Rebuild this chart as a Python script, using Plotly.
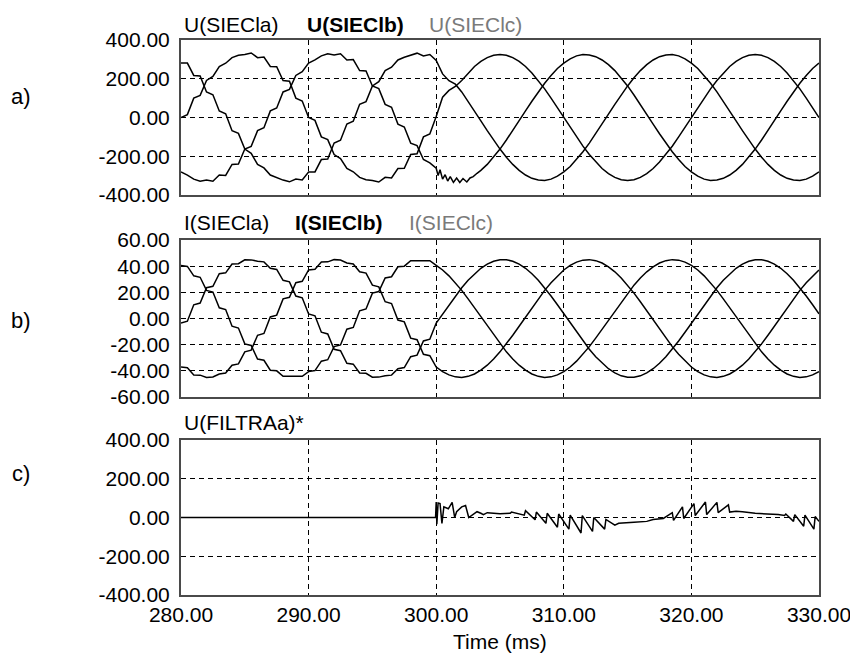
import numpy as np
import plotly.graph_objects as go

# ---------------- data ----------------
t_ms = np.round(np.arange(101) * 0.5 + 280.0, 2)   # 280 ... 330 ms, 0.5 ms sampling

u_a = [0, 15, 100, 114, 191, 212, 263, 280, 309, 321, 325, 333, 309, 312, 263, 262, 191, 187, 100, 85,
       0, -15, -100, -114, -191, -212, -263, -280, -309, -321, -325, -333, -309, -312, -263, -262, -191, -187, -100, -85,
       5, 105, 140, 160, 191, 230, 263, 290, 309, 321, 325, 321, 309, 290, 263, 230, 191, 148, 100, 51,
       0, -51, -100, -148, -191, -230, -263, -290, -309, -321, -325, -321, -309, -290, -263, -230, -191, -148, -100, -51,
       0, 51, 100, 148, 191, 230, 263, 290, 309, 321, 325, 321, 309, 290, 263, 230, 191, 148, 100, 51, 0]

u_b = [-281, -297, -318, -329, -323, -329, -297, -299, -242, -240, -163, -149, -68, -53, 34, 49, 132, 145, 217, 237,
       281, 297, 318, 329, 323, 329, 297, 299, 242, 240, 163, 149, 68, 53, -34, -49, -132, -145, -217, -234,
       -281, -303, -318, -325, -323, -314, -297, -273, -242, -205, -163, -116, -68, -17, 34, 84, 132, 177, 217, 253,
       281, 303, 318, 325, 323, 314, 297, 273, 242, 205, 163, 116, 68, 17, -34, -84, -132, -177, -217, -253,
       -281, -303, -318, -325, -323, -314, -297, -273, -242, -205, -163, -116, -68, -17, 34, 84, 132, 177, 217, 253, 281]

# switching transient of U(SIEClb) between 300 and 303 ms
t_trans = [300.0, 300.15, 300.3, 300.5, 300.7, 300.9, 301.1, 301.35, 301.6, 301.85, 302.1, 302.4, 302.65, 302.9, 303.2]
u_b_trans = [-262, -300, -270, -318, -295, -328, -305, -335, -312, -335, -315, -333, -312, -305, -288]

u_c = [281, 281, 217, 214, 132, 117, 34, 19, -68, -82, -163, -185, -242, -260, -297, -311, -323, -332, -318, -322,
       -281, -281, -217, -214, -132, -117, -34, -19, 68, 82, 163, 185, 242, 260, 297, 311, 323, 332, 318, 325,
       295, 225, 190, 172, 132, 84, 34, -17, -68, -116, -163, -205, -242, -273, -297, -314, -323, -325, -318, -303,
       -281, -253, -217, -177, -132, -84, -34, 17, 68, 116, 163, 205, 242, 273, 297, 314, 323, 325, 318, 303,
       281, 253, 217, 177, 132, 84, 34, -17, -68, -116, -163, -205, -242, -273, -297, -314, -323, -325, -318, -303, -281]

i_a = [-3.5, -2.1, 10.5, 11.8, 23.5, 24.6, 34.2, 34.9, 41.6, 41.9, 44.9, 44.8, 43.8, 43.3, 38.4, 37.5, 29.2, 28.0, 17.2, 15.8,
       3.5, 2.1, -10.5, -11.8, -23.5, -24.6, -34.2, -34.9, -41.6, -41.9, -44.9, -44.8, -43.8, -43.3, -38.4, -37.5, -29.2, -28.0, -17.2, -15.8,
       -3.5, 3.5, 10.5, 17.2, 23.5, 29.2, 34.2, 38.4, 41.6, 43.8, 44.9, 44.9, 43.8, 41.6, 38.4, 34.2, 29.2, 23.5, 17.2, 10.5,
       3.5, -3.5, -10.5, -17.2, -23.5, -29.2, -34.2, -38.4, -41.6, -43.8, -44.9, -44.9, -43.8, -41.6, -38.4, -34.2, -29.2, -23.5, -17.2, -10.5,
       -3.5, 3.5, 10.5, 17.2, 23.5, 29.2, 34.2, 38.4, 41.6, 43.8, 44.9, 44.9, 43.8, 41.6, 38.4, 34.2, 29.2, 23.5, 17.2, 10.5, 3.5]

i_b = [-37.1, -37.7, -43.1, -43.3, -45.0, -44.7, -42.4, -41.7, -35.7, -34.7, -25.5, -24.2, -12.8, -11.4, 1.2, 2.6, 15.0, 16.2, 27.4, 28.4,
       37.1, 37.7, 43.1, 43.3, 45.0, 44.7, 42.4, 41.7, 35.7, 34.7, 25.5, 24.2, 12.8, 11.4, -1.2, -2.6, -15.0, -16.2, -27.4, -28.4,
       -37.1, -40.6, -43.1, -44.6, -45.0, -44.2, -42.4, -39.5, -35.7, -31.0, -25.5, -19.4, -12.8, -5.9, 1.2, 8.2, 15.0, 21.5, 27.4, 32.6,
       37.1, 40.6, 43.1, 44.6, 45.0, 44.2, 42.4, 39.5, 35.7, 31.0, 25.5, 19.4, 12.8, 5.9, -1.2, -8.2, -15.0, -21.5, -27.4, -32.6,
       -37.1, -40.6, -43.1, -44.6, -45.0, -44.2, -42.4, -39.5, -35.7, -31.0, -25.5, -19.4, -12.8, -5.9, 1.2, 8.2, 15.0, 21.5, 27.4, 32.6, 37.1]

i_c = [40.6, 39.8, 32.6, 31.5, 21.5, 20.2, 8.2, 6.8, -5.9, -7.3, -19.4, -20.6, -31.0, -31.9, -39.5, -40.0, -44.2, -44.2, -44.6, -44.2,
       -40.6, -39.8, -32.6, -31.5, -21.5, -20.2, -8.2, -6.8, 5.9, 7.3, 19.4, 20.6, 31.0, 31.9, 39.5, 40.0, 44.2, 44.2, 44.6, 44.2,
       40.6, 37.1, 32.6, 27.4, 21.5, 15.0, 8.2, 1.2, -5.9, -12.8, -19.4, -25.5, -31.0, -35.7, -39.5, -42.4, -44.2, -45.0, -44.6, -43.1,
       -40.6, -37.1, -32.6, -27.4, -21.5, -15.0, -8.2, -1.2, 5.9, 12.8, 19.4, 25.5, 31.0, 35.7, 39.5, 42.4, 44.2, 45.0, 44.6, 43.1,
       40.6, 37.1, 32.6, 27.4, 21.5, 15.0, 8.2, 1.2, -5.9, -12.8, -19.4, -25.5, -31.0, -35.7, -39.5, -42.4, -44.2, -45.0, -44.6, -43.1, -40.6]

t_f = [280.0, 299.95, 300.0, 300.05, 300.15, 300.3, 300.45, 300.6, 300.95, 301.25, 301.45, 301.6, 302.0, 302.3, 302.55,
       303.2, 303.5, 303.7, 304.0, 305.0, 305.8, 305.9, 306.9, 307.0, 307.75, 307.85, 308.6, 308.7, 309.5, 309.6,
       310.4, 310.5, 311.35, 311.45, 312.25, 312.35, 313.2, 313.3, 314.0, 314.3, 315.5, 316.5, 317.0, 317.7, 317.8,
       318.5, 318.6, 319.3, 319.4, 320.2, 320.3, 321.1, 321.2, 322.0, 322.1, 322.9, 323.0, 323.5, 324.0, 325.0,
       326.0, 326.8, 327.3, 327.4, 328.0, 328.1, 328.8, 328.9, 329.6, 329.7, 330.0]
u_f = [0, 0, 80, -35, 75, 72, -30, 55, 45, 78, 0, 30, 55, 62, 0,
       30, 22, 15, 25, 20, 22, 28, 12, 35, -12, 28, -30, 22, -50, 18,
       -60, 12, -80, 10, -72, 0, -60, -10, -40, -30, -25, -20, -10, -5, -5,
       25, -15, 55, -5, 72, 10, 80, 15, 78, 25, 65, 28, 32, 30, 22,
       20, 15, 10, 18, -20, 15, -45, 12, -60, 5, -20]

x_ticks = [280, 290, 300, 310, 320, 330]
u_ticks = [-400, -200, 0, 200, 400]
i_ticks = [-60, -40, -20, 0, 20, 40, 60]

# ---------------- figure ----------------
W, H = 850, 660
L, R, T, B = 181, 31, 40, 65
PH = H - T - B


def dom(top_px, bot_px):
    return [(H - B - bot_px) / PH, (H - B - top_px) / PH]


def px_x(px):
    return (px - L) / (W - L - R)


def px_y(py):
    return (H - B - py) / PH


line = dict(color="black", width=1.5)
fig = go.Figure()
t_pre = list(t_ms[:40])
t_post = list(t_ms[47:])
fig.add_trace(go.Scatter(x=t_ms, y=u_a, mode="lines", line=line, xaxis="x", yaxis="y"))
fig.add_trace(go.Scatter(x=t_pre + t_trans + t_post, y=u_b[:40] + u_b_trans + u_b[47:],
                         mode="lines", line=line, xaxis="x", yaxis="y"))
fig.add_trace(go.Scatter(x=t_ms, y=u_c, mode="lines", line=line, xaxis="x", yaxis="y"))
for ser in (i_a, i_b, i_c):
    fig.add_trace(go.Scatter(x=t_ms, y=ser, mode="lines", line=line, xaxis="x2", yaxis="y2"))
fig.add_trace(go.Scatter(x=t_f, y=u_f, mode="lines", line=line, xaxis="x3", yaxis="y3"))

font = dict(family="Liberation Sans, Arial, sans-serif", size=21, color="black")
common_x = dict(range=[280, 330], tickvals=x_ticks, ticktext=[f"{v:.2f}" for v in x_ticks],
                showgrid=True, gridcolor="black", gridwidth=1, griddash="5px,4px",
                showline=True, linecolor="#4a4a4a", linewidth=2, mirror=True,
                zeroline=False, ticks="", domain=[0, 1], tickfont=font,
                automargin=False, ticklabeloverflow="allow")
common_y = dict(showgrid=True, gridcolor="black", gridwidth=1, griddash="5px,4px",
                showline=True, linecolor="#4a4a4a", linewidth=2, mirror=True,
                zeroline=False, ticks="", tickfont=font, ticklabelstandoff=5,
                automargin=False, ticklabeloverflow="allow")

fig.update_layout(
    width=W, height=H, margin=dict(l=L, r=R, t=T, b=B, autoexpand=False),
    paper_bgcolor="white", plot_bgcolor="white", showlegend=False,
    font=font,
    xaxis=dict(common_x, anchor="y", showticklabels=False),
    xaxis2=dict(common_x, anchor="y2", showticklabels=False),
    xaxis3=dict(common_x, anchor="y3", showticklabels=True),
    yaxis=dict(common_y, anchor="x", domain=dom(40, 195), range=[-400, 400],
               tickvals=u_ticks, ticktext=[f"{v:.2f}" for v in u_ticks]),
    yaxis2=dict(common_y, anchor="x2", domain=dom(240, 397), range=[-60, 60],
                tickvals=i_ticks, ticktext=[f"{v:.2f}" for v in i_ticks]),
    yaxis3=dict(common_y, anchor="x3", domain=dom(440, 595), range=[-400, 400],
                tickvals=u_ticks, ticktext=[f"{v:.2f}" for v in u_ticks]),
)

ann = []


def label(text, px, py, color="black", xanchor="left", size=21):
    ann.append(dict(text=text, x=px_x(px), y=px_y(py), xref="paper", yref="paper",
                    xanchor=xanchor, yanchor="middle", showarrow=False,
                    font=dict(family=font["family"], size=size, color=color)))


label("U(SIECla)", 182, 24)
label("<b>U(SIEClb)</b>", 305, 24)
label("U(SIEClc)", 427, 24, color="#7a7a7a")
label("I(SIECla)", 182, 222)
label("<b>I(SIEClb)</b>", 293, 222)
label("I(SIEClc)", 407, 222, color="#7a7a7a")
label("U(FILTRAa)*", 182, 422)
label("a)", 21, 97, xanchor="center", size=22)
label("b)", 21, 321, xanchor="center", size=22)
label("c)", 21, 473, xanchor="center", size=22)
label("Time (ms)", 500, 641, xanchor="center")
fig.update_layout(annotations=ann)

fig.write_html("out.html")
